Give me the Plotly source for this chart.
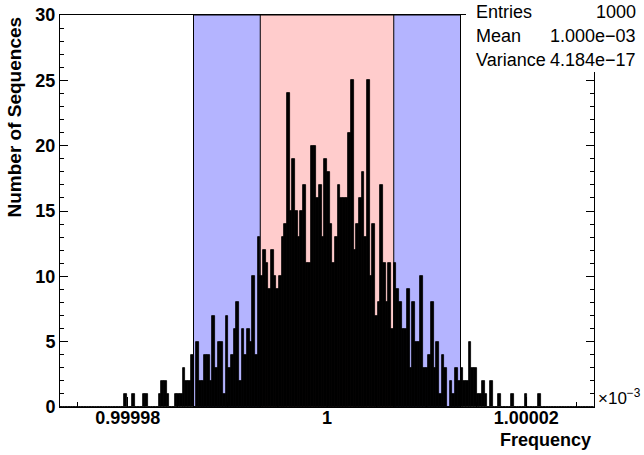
import numpy as np
import plotly.graph_objects as go

# ---- data (x in units of 1e-3) ----
mean_val = 1.0
band_sigma = 6.7e-6
x_min = 0.9999732
x_max = 1.0000268
n_bins = 200

counts = (
    [0] * 24 +
    [1, 0, 0, 1, 0, 0, 0, 1, 1, 0, 0, 0, 0, 1, 2, 2, 1, 0, 0, 1,      # 24-43
     1, 1, 3, 2, 2, 4, 0, 5, 2, 2, 4, 4, 2, 7, 3, 5, 5, 1, 7, 3,      # 44-63
     4, 6, 8, 2, 6, 4, 6, 5, 10, 4, 13, 10, 12, 11, 9, 12, 10, 9, 10, 13,   # 64-83
     14, 24, 15, 19, 15, 13, 15, 17, 11, 11, 20, 20, 16, 17, 13, 19, 18, 14, 11, 13,  # 84-103
     17, 16, 16, 16, 21, 25, 12, 14, 16, 18, 13, 25, 10, 14, 7, 8, 17, 11, 8, 11,    # 104-123
     6, 11, 9, 8, 6, 6, 9, 3, 8, 5, 5, 10, 3, 3, 4, 8, 3, 5, 1, 4,    # 124-143
     3, 0, 2, 1, 3, 2, 3, 2, 2, 5, 3, 3, 1, 1, 2, 1, 0, 2, 0, 0,      # 144-163
     1, 0, 0, 0, 0, 1, 0, 0, 0, 0, 1, 0, 0, 0, 0, 1] +                # 164-179
    [0] * 20
)

x_tick_vals = [0.99998, 1.0, 1.00002]
x_tick_text = ["0.99998", "1", "1.00002"]
x_minor_vals = [0.999975, 0.999985, 0.99999, 0.999995,
                1.000005, 1.00001, 1.000015, 1.000025]
y_tick_vals = [0, 5, 10, 15, 20, 25, 30]

stats_labels = ["Entries", "Mean", "Variance"]
stats_values = ["1000", "1.000e\u221203", "4.184e\u221217"]

# ---- geometry helpers ----
edges = np.linspace(x_min, x_max, n_bins + 1)
centers = 0.5 * (edges[:-1] + edges[1:])
bin_w = edges[1] - edges[0]

FONT = "Liberation Sans"

fig = go.Figure()
fig.add_trace(go.Bar(
    x=centers, y=counts, width=bin_w,
    marker=dict(color="black", line=dict(color="black", width=0.8)),
    hoverinfo="skip",
))

# bands
fig.add_shape(type="rect", xref="x", yref="y",
              x0=mean_val - 2 * band_sigma, x1=mean_val + 2 * band_sigma, y0=0, y1=30,
              fillcolor="#b4b4ff", line=dict(color="black", width=1), layer="below")
fig.add_shape(type="rect", xref="x", yref="y",
              x0=mean_val - band_sigma, x1=mean_val + band_sigma, y0=0, y1=30,
              fillcolor="#ffcccc", line=dict(color="black", width=1), layer="below")

# stats box (white cover)
L, R, T, B = 60, 50, 15, 48
W, H = 644, 455
pw, ph = W - L - R, H - T - B


def px_x(p):
    return (p - L) / pw


def px_y(p):
    return (H - B - p) / ph


fig.add_shape(type="rect", xref="paper", yref="paper",
              x0=px_x(466), x1=px_x(650), y0=px_y(72), y1=px_y(-5),
              fillcolor="white", line=dict(width=0), layer="above")

ann = []
row_y = [12, 36, 60]
for lab, val, yy in zip(stats_labels, stats_values, row_y):
    ann.append(dict(text=lab, xref="paper", yref="paper", x=px_x(474), y=px_y(yy),
                    xanchor="left", yanchor="middle", showarrow=False,
                    font=dict(family=FONT, size=18, color="black")))
    ann.append(dict(text=val, xref="paper", yref="paper", x=px_x(638), y=px_y(yy),
                    xanchor="right", yanchor="middle", showarrow=False,
                    font=dict(family=FONT, size=18, color="black")))

ann.append(dict(text="<b>Number of Sequences</b>", xref="paper", yref="paper",
                x=px_x(14), y=1.0, xanchor="center", yanchor="top", textangle=-90,
                showarrow=False, font=dict(family=FONT, size=19, color="black")))
ann.append(dict(text="<b>Frequency</b>", xref="paper", yref="paper",
                x=px_x(593), y=px_y(440), xanchor="right", yanchor="middle",
                showarrow=False, font=dict(family=FONT, size=18, color="black")))
ann.append(dict(text="\u00d710<sup>\u22123</sup>", xref="paper", yref="paper",
                x=px_x(596), y=px_y(397), xanchor="left", yanchor="middle",
                showarrow=False, font=dict(family=FONT, size=17, color="black")))

fig.update_layout(
    width=W, height=H, autosize=False,
    margin=dict(l=L, r=R, t=T, b=B, pad=0, autoexpand=False),
    paper_bgcolor="white", plot_bgcolor="white",
    showlegend=False, bargap=0,
    annotations=ann,
    xaxis=dict(range=[x_min, x_max], tickmode="array", tickvals=x_tick_vals,
               ticktext=x_tick_text, ticks="inside", ticklen=10, tickcolor="black",
               tickwidth=1, showline=True, linecolor="black", linewidth=1, mirror=True,
               showgrid=False, zeroline=False, automargin=False, ticklabelstandoff=-6,
               tickfont=dict(family=FONT, size=18, color="black", weight="bold"),
               minor=dict(tickmode="array", tickvals=x_minor_vals, ticks="inside",
                          ticklen=5, tickcolor="black", showgrid=False)),
    yaxis=dict(range=[0, 30], tickmode="array", tickvals=y_tick_vals,
               ticks="inside", ticklen=8, tickcolor="black", tickwidth=1,
               showline=True, linecolor="black", linewidth=1, mirror="allticks",
               showgrid=False, zeroline=False, automargin=False,
               tickfont=dict(family=FONT, size=18, color="black", weight="bold"),
               minor=dict(dtick=1, tick0=0, ticks="inside", ticklen=4,
                          tickcolor="black", showgrid=False)),
)

fig.write_html(
    "out.html",
    config={"displayModeBar": False},
    post_script="document.body.style.margin='0';document.body.style.overflow='hidden';",
)
